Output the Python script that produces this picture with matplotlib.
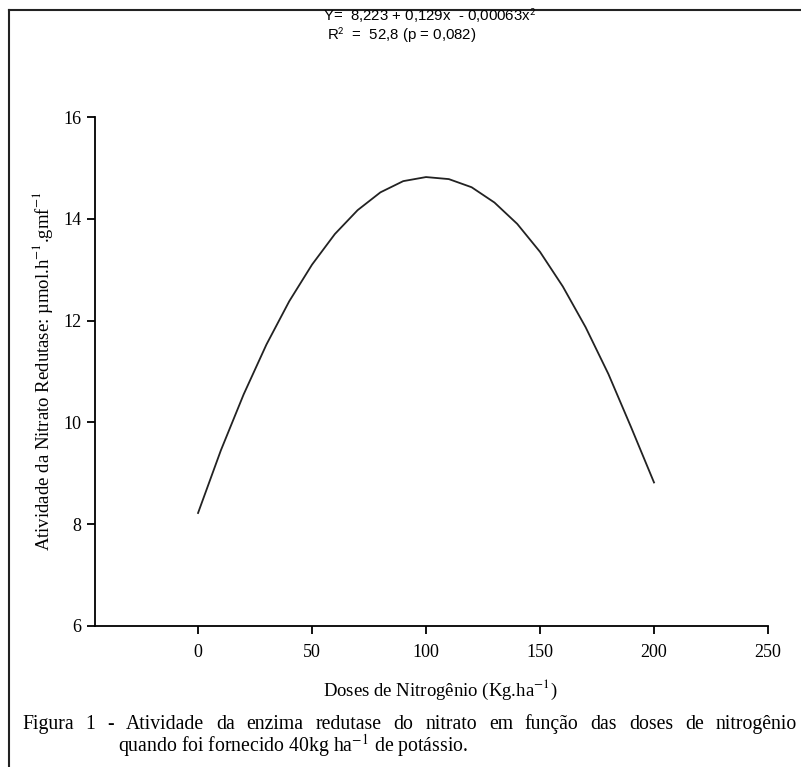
import matplotlib
matplotlib.use("Agg")
import matplotlib.pyplot as plt
from matplotlib.lines import Line2D

doses = [0, 10, 20, 30, 40, 50, 60, 70, 80, 90, 100, 110, 120, 130, 140, 150, 160, 170, 180, 190, 200]
atividade = [8.22, 9.45, 10.55, 11.53, 12.38, 13.10, 13.70, 14.17, 14.52, 14.74, 14.82,
             14.78, 14.62, 14.32, 13.90, 13.35, 12.67, 11.87, 10.95, 9.90, 8.82]
xticks = [0, 50, 100, 150, 200, 250]
yticks = [6, 8, 10, 12, 14, 16]
caption1 = "Figura 1 - Atividade da enzima redutase do nitrato em função das doses de nitrogênio"
caption2 = "quando foi fornecido 40kg ha$^{-1}$ de potássio."

W, H = 801, 767
fig = plt.figure(figsize=(W/100, H/100), dpi=100)
serif = "Liberation Serif"
sans = "Liberation Sans"

ax = fig.add_axes([95/W, 1-626/H, (768-95)/W, (626-117)/H])
ax.plot(doses, atividade, color="#222222", lw=1.3)
ax.set_xlim(-45.2, 250)
ax.set_ylim(6, 16)
ax.set_xticks(xticks)
ax.set_yticks(yticks)
for s in ["top", "right"]:
    ax.spines[s].set_visible(False)
for s in ["left", "bottom"]:
    ax.spines[s].set_linewidth(1.3)
ax.tick_params(direction="out", length=6, width=1.3, labelsize=13, pad=4)
ax.tick_params(axis="x", pad=7)
for lab in ax.get_xticklabels() + ax.get_yticklabels():
    lab.set_fontfamily(serif)
ax.set_ylabel("Atividade da Nitrato Redutase: µmol.h$^{-1}$.gmf$^{-1}$", fontfamily=serif,
              fontsize=13.5, labelpad=6, math_fontfamily="stix")

fig.text(440/W, 1-690/H, "Doses de Nitrogênio (Kg.ha$^{-1}$)", fontfamily=serif, fontsize=13.5,
         ha="center", va="center", math_fontfamily="stix")

# justified first caption line
fs_cap = 14.2
renderer = fig.canvas.get_renderer()
words = caption1.split(" ")
tmp = [fig.text(0, 0, w, fontfamily=serif, fontsize=fs_cap) for w in words]
widths = [t.get_window_extent(renderer).width for t in tmp]
for t in tmp:
    t.remove()
x0, x1 = 22, 797
gap = (x1 - x0 - sum(widths)) / (len(words) - 1)
xpos = x0
for w, wd in zip(words, widths):
    fig.text(xpos/W, 1-729/H, w, fontfamily=serif, fontsize=fs_cap, ha="left", va="baseline")
    xpos += wd + gap

fig.text(118/W, 1-752/H, caption2, fontfamily=serif, fontsize=fs_cap, ha="left", va="baseline",
         math_fontfamily="stix")

fig.text(323/W, 1-16/H, "Y=  8,223 + 0,129x  - 0,00063x$^2$", fontfamily=sans, fontsize=10.8,
         ha="left", va="center", math_fontfamily="stixsans")
fig.text(327/W, 1-35/H, "R$^2$  =  52,8 (p = 0,082)", fontfamily=sans, fontsize=10.8,
         ha="left", va="center", math_fontfamily="stixsans")

fig.add_artist(Line2D([8.5/W, 1], [1-9.5/H, 1-9.5/H], color="#222222", lw=1.5, transform=fig.transFigure))
fig.add_artist(Line2D([8.5/W, 8.5/W], [1-9.5/H, 0], color="#222222", lw=1.5, transform=fig.transFigure))

fig.savefig("out.png", dpi=100)
